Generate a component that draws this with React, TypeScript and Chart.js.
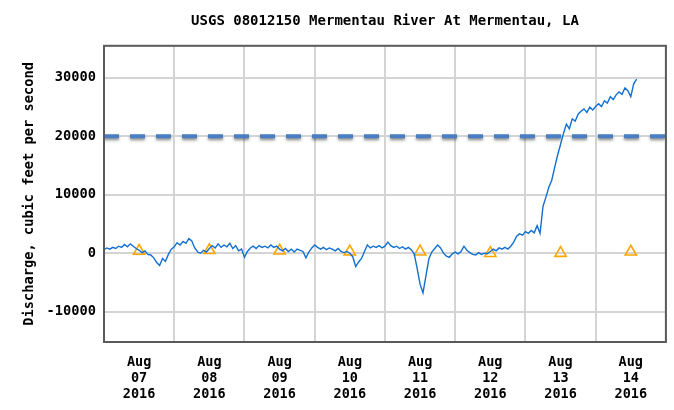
import React, { useEffect, useRef } from 'react';
import { Chart, registerables } from 'chart.js';

Chart.register(...registerables);

const TITLE = 'USGS 08012150 Mermentau River At Mermentau, LA';
const Y_TITLE = 'Discharge, cubic feet per second';
const MONTH = 'Aug';
const YEAR = '2016';
const DAYS = ['07', '08', '09', '10', '11', '12', '13', '14'];
const Y_TICKS = [-10000, 0, 10000, 20000, 30000];
const FLOOD_LINE = 20000;
// discharge readings, one per hour from Aug 07 2016 00:00
const FLOW_HOURLY = [
  600, 900, 700, 1000, 800, 1200, 1000, 1500, 1100, 1600, 1200, 800,
  500, 100, 400, -200, -300, -800, -1600, -2100, -900, -1400, -200, 700,
  1100, 1800, 1400, 2000, 1700, 2500, 2100, 900, 200, 0, 500, 200,
  800, 1300, 900, 1600, 1000, 1400, 1100, 1700, 800, 1300, 400, 700,
  -700, 300, 900, 1200, 800, 1300, 1000, 1200, 900, 1400, 1000, 1200,
  700, 400, 800, 300, 700, 200, 700, 500, 300, -800, 200, 900,
  1400, 1000, 700, 1000, 600, 900, 700, 400, 800, 300, 100, 300,
  0, -600, -2300, -1500, -900, 300, 1400, 900, 1200, 1000, 1300, 900,
  1200, 1900, 1300, 1000, 1200, 800, 1100, 700, 1000, 600, -100, -2600,
  -5300, -6800, -3900, -1000, 200, 800, 1400, 900, 0, -500, -700, -100,
  200, -100, 300, 1200, 500, 100, -200, -300, 100, -200, 0, -100,
  300, 700, 400, 900, 700, 1000, 700, 1200, 1900, 2900, 3300, 3100,
  3700, 3400, 3900, 3500, 4700, 3400, 8000, 9600, 11300, 12500, 14700, 16800,
  18600, 20500, 22100, 21300, 23000, 22600, 23800, 24300, 24700, 24100, 25000, 24500,
  25100, 25600, 25100, 26100, 25700, 26800, 26300, 27100, 27600, 27200, 28300, 27800,
  26800, 29000, 29800,
];
// daily statistic markers (triangles), one per day at noon
const DAILY_MEDIAN = [380, 500, 420, 260, 260, 0, 20, 250];

const FONT_FAMILY = "'DejaVu Sans Mono', 'Liberation Mono', monospace";

export default function App() {
  const canvasRef = useRef<HTMLCanvasElement | null>(null);

  useEffect(() => {
    const canvas = canvasRef.current;
    if (!canvas) return;
    const totalHours = DAYS.length * 24;
    const dayBounds = [...DAYS.map((_, i) => i * 24), totalHours];
    const noons = DAYS.map((_, i) => i * 24 + 12);

    const flowPoints = FLOW_HOURLY.map((v, i) => ({ x: i, y: v }));
    const medianPoints = DAILY_MEDIAN.map((v, i) => ({ x: noons[i], y: v }));
    const floodPoints = [
      { x: 0, y: FLOOD_LINE },
      { x: totalHours, y: FLOOD_LINE },
    ];

    const boldFont = (size: number, lineHeight = 1.2) => ({
      family: FONT_FAMILY,
      size,
      weight: 'bold' as const,
      lineHeight,
    });

    const shadowPlugin = {
      id: 'dashShadow',
      beforeDatasetDraw(chart: any, args: any) {
        if (args.index === 0) {
          const ctx = chart.ctx;
          ctx.save();
          ctx.shadowColor = 'rgba(0,0,0,0.45)';
          ctx.shadowBlur = 3;
          ctx.shadowOffsetY = 2;
        }
      },
      afterDatasetDraw(chart: any, args: any) {
        if (args.index === 0) chart.ctx.restore();
      },
    };

    const framePlugin = {
      id: 'frame',
      afterDatasetsDraw(chart: any) {
        const { ctx, chartArea } = chart;
        ctx.save();
        ctx.strokeStyle = '#5a5a5a';
        ctx.lineWidth = 2;
        ctx.strokeRect(
          chartArea.left,
          chartArea.top,
          chartArea.right - chartArea.left,
          chartArea.bottom - chartArea.top
        );
        ctx.restore();
      },
    };

    const chart = new Chart(canvas, {
      type: 'line',
      data: {
        datasets: [
          {
            data: floodPoints,
            borderColor: '#4a7ec1',
            borderWidth: 4,
            borderDash: [15, 11],
            pointRadius: 0,
            order: 3,
          },
          {
            data: medianPoints,
            showLine: false,
            pointStyle: 'triangle',
            pointRadius: 6.5,
            pointBorderColor: '#ffa500',
            pointBackgroundColor: 'rgba(0,0,0,0)',
            pointBorderWidth: 1.6,
            order: 2,
          },
          {
            data: flowPoints,
            borderColor: '#1170d0',
            borderWidth: 1.4,
            pointRadius: 0,
            tension: 0,
            order: 1,
          },
        ],
      },
      options: {
        responsive: false,
        animation: false,
        layout: { padding: { left: 0, right: 7, top: 0, bottom: 0 } },
        plugins: {
          legend: { display: false },
          tooltip: { enabled: false },
          title: {
            display: true,
            text: TITLE,
            fullSize: false,
            color: '#000',
            font: boldFont(14),
            padding: { top: 13, bottom: 16 },
          },
        },
        scales: {
          x: {
            type: 'linear',
            position: 'bottom',
            min: 0,
            max: totalHours,
            grid: { color: '#d4d4d4', lineWidth: 2, drawTicks: false },
            border: { display: false },
            ticks: { display: false },
            afterBuildTicks: (s: any) => {
              s.ticks = dayBounds.map((v) => ({ value: v }));
            },
            afterFit: (s: any) => {
              s.height = 0;
            },
          },
          xLabels: {
            type: 'linear',
            position: 'bottom',
            min: 0,
            max: totalHours,
            grid: { display: false, drawTicks: false },
            border: { display: false },
            afterBuildTicks: (s: any) => {
              s.ticks = noons.map((v) => ({ value: v }));
            },
            ticks: {
              padding: 12,
              color: '#000',
              font: boldFont(13.5, 1.2),
              maxRotation: 0,
              autoSkip: false,
              callback: (v: any) => {
                const i = Math.round((Number(v) - 12) / 24);
                return [MONTH, DAYS[i], YEAR];
              },
            },
            afterFit: (s: any) => {
              s.height = 68;
            },
          },
          y: {
            min: -15200,
            max: 35500,
            grid: { color: '#d4d4d4', lineWidth: 2, drawTicks: false },
            border: { display: false },
            afterBuildTicks: (s: any) => {
              s.ticks = Y_TICKS.map((v) => ({ value: v }));
            },
            ticks: {
              padding: 8,
              color: '#000',
              font: boldFont(13.7),
              callback: (v: any) => String(v),
            },
            title: {
              display: true,
              text: Y_TITLE,
              color: '#000',
              font: boldFont(13.7),
              padding: { top: 21, bottom: 0 },
            },
            afterFit: (s: any) => {
              s.width = 104;
            },
          },
        },
      },
      plugins: [shadowPlugin, framePlugin],
    } as any);

    return () => chart.destroy();
  }, []);

  return (
    <div style={{ position: 'fixed', left: 0, top: 0, width: 674, height: 410, background: '#fff' }}>
      <canvas ref={canvasRef} width={674} height={410} style={{ display: 'block' }} />
    </div>
  );
}
